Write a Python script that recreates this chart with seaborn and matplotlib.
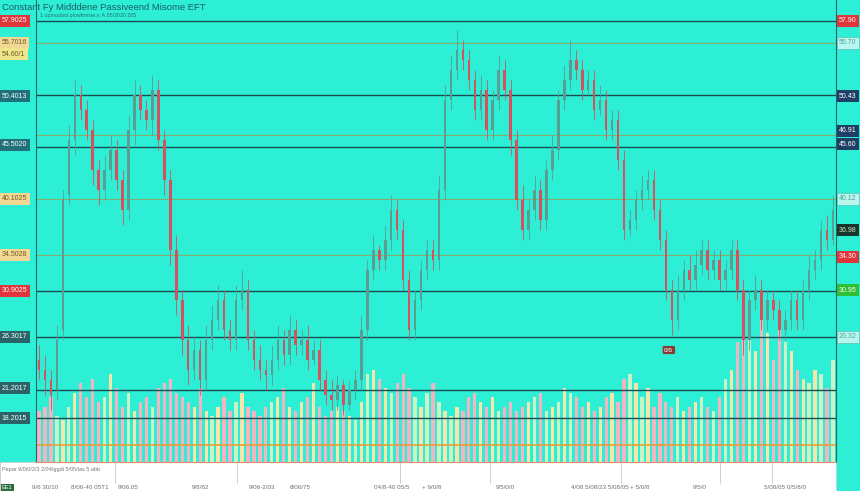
import numpy as np
import pandas as pd
import matplotlib
matplotlib.use("Agg")
import matplotlib.pyplot as plt
import matplotlib.transforms as mtransforms
import seaborn as sns

# ---- candle data ----
opens = [24.0, 23.0, 22.0, 21.0, 27.0, 40.5, 46.0, 50.5, 49.0, 47.0,
         43.0, 41.0, 43.0, 45.0, 42.0, 39.0, 47.0, 50.5, 49.0, 48.0,
         51.0, 46.0, 42.0, 35.0, 30.0, 26.0, 23.0, 25.0, 22.0, 26.0,
         28.0, 30.0, 27.0, 26.0, 30.0, 31.0, 26.0, 24.0, 23.0, 22.5,
         24.0, 26.0, 24.5, 27.0, 25.5, 26.0, 24.0, 25.0, 22.0, 20.5,
         20.0, 21.5, 19.5, 21.0, 22.0, 27.0, 33.0, 35.0, 34.0, 36.0,
         39.0, 37.0, 32.0, 27.0, 30.0, 33.0, 35.0, 34.0, 41.0, 50.0,
         53.0, 55.0, 54.0, 52.0, 49.0, 51.0, 47.0, 50.0, 53.0, 51.0,
         46.0, 40.0, 37.0, 39.0, 41.0, 38.0, 43.0, 45.0, 50.0, 52.0,
         54.0, 53.0, 51.0, 52.0, 49.0, 50.0, 47.0, 48.0, 44.0, 37.0,
         38.0, 40.0, 41.0, 42.0, 39.0, 36.0, 31.0, 28.0, 31.0, 33.0,
         32.0, 33.5, 35.0, 33.0, 34.0, 32.0, 33.0, 35.0, 31.0, 26.0,
         30.0, 31.0, 28.0, 30.0, 29.0, 27.0, 28.0, 30.0, 28.0, 31.0,
         33.0, 34.0, 37.0, 36.0]
closes = [23.0, 22.0, 20.5, 26.0, 40.0, 46.0, 50.5, 49.0, 47.0, 43.0,
          41.0, 43.0, 45.0, 42.0, 39.0, 47.0, 50.5, 49.0, 48.0, 51.0,
          46.0, 42.0, 35.0, 30.0, 26.0, 23.0, 25.0, 22.0, 26.0, 28.0,
          30.0, 27.0, 26.0, 30.0, 31.0, 26.0, 24.0, 23.0, 22.5, 24.0,
          26.0, 24.5, 27.0, 25.5, 26.0, 24.0, 25.0, 22.0, 20.5, 20.0,
          21.5, 19.5, 21.0, 22.0, 27.0, 33.0, 35.0, 34.0, 36.0, 39.0,
          37.0, 32.0, 27.0, 30.0, 33.0, 35.0, 34.0, 41.0, 50.0, 53.0,
          55.0, 54.0, 52.0, 49.0, 51.0, 47.0, 50.0, 53.0, 51.0, 46.0,
          40.0, 37.0, 39.0, 41.0, 38.0, 43.0, 45.0, 50.0, 52.0, 54.0,
          53.0, 51.0, 52.0, 49.0, 50.0, 47.0, 48.0, 44.0, 37.0, 38.0,
          40.0, 41.0, 42.0, 39.0, 36.0, 31.0, 28.0, 31.0, 33.0, 32.0,
          33.5, 35.0, 33.0, 34.0, 32.0, 33.0, 35.0, 31.0, 26.0, 30.0,
          31.0, 28.0, 30.0, 29.0, 27.0, 28.0, 30.0, 28.0, 31.0, 33.0,
          34.0, 37.0, 36.0, 39.0]
highs = [25.5, 24.5, 23.0, 27.5, 41.0, 47.5, 52.0, 51.5, 50.0, 48.0,
         44.0, 44.5, 46.5, 46.0, 43.0, 48.5, 52.0, 51.5, 50.0, 52.5,
         52.0, 47.0, 43.0, 36.5, 31.0, 27.5, 26.5, 26.0, 27.5, 29.5,
         31.5, 31.0, 28.0, 31.5, 33.0, 32.0, 27.0, 25.5, 24.0, 25.5,
         27.5, 27.0, 28.5, 28.0, 27.0, 27.5, 26.0, 26.0, 23.0, 22.0,
         22.5, 22.0, 22.0, 23.0, 28.5, 34.0, 36.5, 35.5, 37.5, 40.5,
         40.0, 38.0, 33.0, 31.0, 34.0, 36.0, 36.0, 42.5, 51.5, 54.5,
         57.0, 56.0, 55.0, 53.0, 52.5, 52.0, 51.0, 54.5, 54.0, 52.0,
         47.0, 41.5, 40.0, 42.5, 42.0, 44.0, 46.5, 51.0, 53.5, 56.0,
         55.0, 54.0, 53.0, 53.0, 51.5, 51.0, 49.0, 49.0, 45.0, 39.0,
         41.0, 42.5, 43.0, 43.0, 40.0, 37.0, 32.0, 32.5, 34.0, 34.5,
         35.0, 36.0, 36.0, 35.0, 35.0, 34.0, 36.0, 36.0, 32.0, 31.0,
         32.5, 32.0, 31.0, 31.0, 30.0, 29.0, 31.0, 31.0, 32.0, 34.5,
         35.0, 38.0, 38.5, 40.5]
lows = [22.0, 20.5, 19.0, 20.0, 26.0, 39.5, 44.5, 48.0, 46.0, 41.5,
        39.5, 40.0, 42.0, 41.0, 37.5, 38.0, 45.5, 48.0, 47.0, 46.5,
        45.0, 40.5, 33.5, 28.5, 24.5, 21.5, 22.0, 20.5, 21.0, 25.0,
        27.0, 26.0, 25.0, 25.0, 29.0, 25.0, 23.0, 22.0, 21.0, 21.5,
        23.0, 23.5, 23.5, 24.5, 24.5, 23.0, 23.5, 21.0, 19.5, 19.0,
        19.0, 18.5, 19.0, 20.0, 21.0, 26.0, 32.0, 33.0, 33.0, 35.0,
        36.0, 31.0, 26.0, 26.0, 29.0, 32.0, 33.0, 33.0, 40.0, 49.0,
        52.0, 53.0, 51.0, 48.0, 48.0, 46.0, 46.0, 49.0, 50.0, 44.5,
        39.0, 36.0, 36.0, 38.0, 37.0, 37.0, 42.0, 44.0, 49.0, 51.0,
        52.0, 50.0, 50.5, 48.0, 48.5, 46.0, 46.0, 43.0, 36.0, 36.5,
        37.0, 39.0, 40.0, 38.0, 35.0, 30.0, 26.5, 27.0, 30.0, 31.0,
        31.0, 32.5, 32.0, 32.0, 31.0, 31.0, 32.0, 30.0, 24.5, 25.0,
        29.0, 27.0, 27.0, 28.0, 26.0, 26.0, 27.0, 27.0, 27.0, 30.0,
        32.0, 33.0, 35.0, 35.5]
volume = [55, 60, 70, 50, 45, 60, 75, 85, 70, 90,
          65, 70, 95, 80, 60, 75, 55, 65, 70, 60,
          80, 85, 90, 75, 70, 65, 60, 80, 55, 50,
          60, 70, 55, 65, 75, 60, 55, 50, 60, 65,
          70, 80, 60, 55, 65, 70, 85, 60, 50, 55,
          60, 55, 50, 45, 65, 95, 100, 90, 80, 75,
          85, 95, 80, 70, 60, 75, 85, 65, 55, 50,
          60, 55, 70, 75, 65, 60, 70, 55, 60, 65,
          55, 60, 65, 70, 75, 55, 60, 65, 80, 75,
          70, 60, 65, 55, 60, 70, 75, 65, 90, 95,
          85, 70, 80, 60, 75, 65, 60, 70, 55, 60,
          65, 70, 60, 55, 70, 90, 100, 130, 170, 150,
          120, 160, 140, 110, 150, 130, 120, 100, 90, 85,
          100, 95, 80, 110]
vol_avg = 18

# support / resistance levels
level_prices = [57.9, 55.7, 50.5, 46.5, 45.3, 40.1, 34.5, 30.9, 26.3, 21.0, 18.2]
level_kinds = ["major", "minor", "major", "minor", "major", "minor",
               "minor", "major", "major", "major", "major"]

left_tag_prices = [57.9, 55.7, 54.6, 50.4, 45.5, 40.1, 34.5, 30.9, 26.3, 21.2, 18.2]
left_tag_texts = ["57.9025", "55.7016", "54.60/1", "50.4013", "45.5020", "40.1025",
                  "34.5028", "30.9025", "26.3017", "21.2017", "18.2015"]
left_tag_kinds = ["red", "sand", "yellow", "teal", "teal", "sand",
                  "sand", "red", "dark", "dark", "dark"]

right_tag_prices = [57.9, 55.7, 50.4, 46.9, 45.6, 40.1, 37.0, 34.3, 31.0, 26.3]
right_tag_texts = ["57.90", "55.70", "50.43", "46.91", "45.60", "40.12",
                   "36.98", "34.30", "30.95", "26.32"]
right_tag_kinds = ["red", "pale", "navy", "navy", "navy", "pale",
                   "black", "red", "green", "pale"]

date_ticks = [1.0, 8.5, 14.9, 27.0, 37.4, 43.7, 59.1, 65.8, 78.1, 94.0, 100.7, 110.7, 125.0]
date_labels = ["9/6 30/10", "8/06-40 05T1", "9/06.05", "9/8/62", "9/06-2/03", "8/06/75",
               "04/8-40 05/5", "+ 9/0/8", "9/5/0/0", "4/08 5/08/23 5/08/05", "+ 5/0/8",
               "9/5/0", "5/08/05 0/5/8/0"]
grid_ticks = [12.7, 27.0, 33.2, 60.5, 75.5, 97.5, 114.1, 122.8]

title = "Constant Fy Midddene Passiveend Misome EFT"
subtitle = "1 opmodast plowfrmsie.v, A.05/2020 205"
footnote = "Pepar 9/0/0/2/3 2/04/ggdi 5/05/tas 5 abb"

# ---- styling ----
BG = "#2cefd6"
UP, DOWN = "#5c9d93", "#d84f5e"
tag_faces = {"red": ("#e0353a", "white"), "sand": ("#f3d894", "#6b5a2a"),
             "yellow": ("#efe68c", "#6b5a2a"), "teal": ("#20717a", "white"),
             "dark": ("#2b6468", "white"), "pale": ("#b9f6ee", "#4fa59c"),
             "navy": ("#1f3f66", "white"), "black": ("#17352a", "#d8e8c0"),
             "green": ("#2fbf34", "white")}

sns.set_theme(style="white", rc={"axes.facecolor": BG, "figure.facecolor": BG})
plt.rcParams["font.family"] = ["Liberation Sans", "DejaVu Sans"]

df = pd.DataFrame({"open": opens, "close": closes, "high": highs, "low": lows, "volume": volume})
df["idx"] = np.arange(len(df))
df["up"] = df["close"] >= df["open"]
df["tone"] = np.where(~df["up"], "down", np.where(df["idx"] % 2 == 0, "up_a", "up_b"))

fig = plt.figure(figsize=(8.6, 4.91), dpi=100)
ax = fig.add_axes([36 / 860, 29 / 491, 800 / 860, 462 / 491])
axv = ax.twinx()

# white strip below the chart
fig.patches.append(plt.Rectangle((0, 0), 836 / 860, 29 / 491, transform=fig.transFigure,
                                 facecolor="white", edgecolor="#d0d0d0", lw=0.6, zorder=0))

# volume bars (behind candles)
sns.barplot(data=df, x="idx", y="volume", hue="tone", native_scale=True, dodge=False,
            palette={"down": "#f4b4c2", "up_a": "#f6e6ac", "up_b": "#cbf4c4"},
            saturation=1, width=0.55, linewidth=0, legend=False, ax=axv)
axv.axhline(vol_avg, color="#ec9a2e", lw=1.1, zorder=5)
axv.set_ylim(0, 500)
axv.set_yticks([])
axv.set_ylabel("")
axv.set_xlabel("")
ax.set_zorder(axv.get_zorder() + 1)
ax.patch.set_visible(False)
axv.set_facecolor(BG)

# candles
cols = np.where(df["up"], UP, DOWN)
ax.vlines(df["idx"], df["low"], df["high"], colors=cols, lw=0.6, zorder=3)
body_lo = df[["open", "close"]].min(axis=1)
body_h = (df["close"] - df["open"]).abs().clip(lower=0.2)
ax.bar(df["idx"], body_h, bottom=body_lo, width=0.42, color=cols, lw=0, zorder=4)

# levels
for p, k in zip(level_prices, level_kinds):
    if k == "major":
        ax.axhline(p, color="#1b4c52", lw=1.0, zorder=2)
    else:
        ax.axhline(p, color="#8aa96a", lw=0.8, zorder=2)

ax.set_xlim(-0.5, len(df) - 0.5)
axv.set_xlim(-0.5, len(df) - 0.5)
ax.set_ylim(13.8, 60)
ax.set_yticks([])

# x ticks: labels in the bottom strip, grey separator lines
ax.set_xticks(date_ticks)
ax.set_xticklabels(date_labels, fontsize=4.5, color="#707070")
ax.tick_params(axis="x", which="major", length=0, pad=16.5)
ax.set_xticks(grid_ticks, minor=True)
ax.tick_params(axis="x", which="minor", length=15, width=0.6, color="#c8c8c8", bottom=True)
for s in ["left", "right"]:
    ax.spines[s].set_color("#1e6a6a")
    ax.spines[s].set_linewidth(0.8)
ax.spines["top"].set_visible(False)
ax.spines["bottom"].set_color("#e58a6a")
ax.spines["bottom"].set_linewidth(0.8)
for s in axv.spines.values():
    s.set_visible(False)

# price tags
left_tr = mtransforms.blended_transform_factory(fig.transFigure, ax.transData)
for p, t, k in zip(left_tag_prices, left_tag_texts, left_tag_kinds):
    fc, tc = tag_faces[k]
    ax.text(0.002, p, t, transform=left_tr, ha="left", va="center", fontsize=5, color=tc,
            bbox=dict(boxstyle="square,pad=0.35", fc=fc, ec="none"), clip_on=False, zorder=6)
right_tr = mtransforms.blended_transform_factory(fig.transFigure, ax.transData)
for p, t, k in zip(right_tag_prices, right_tag_texts, right_tag_kinds):
    fc, tc = tag_faces[k]
    ec = "#5fbfb8" if k == "pale" else "none"
    ax.text(839 / 860, p, t, transform=right_tr, ha="left", va="center", fontsize=5, color=tc,
            bbox=dict(boxstyle="square,pad=0.3", fc=fc, ec=ec, lw=0.5), clip_on=False, zorder=6)

# marker label near the dip
ax.text(105.5, 25.0, "0/Б", ha="center", va="center", fontsize=4.5, color="white",
        bbox=dict(boxstyle="round,pad=0.25", fc="#8a3a34", ec="none"), zorder=6)

# titles and footnotes
fig.text(2 / 860, 1 - 8 / 491, title, fontsize=6.8, color="#1d5d63", va="center", ha="left")
fig.text(40 / 860, 1 - 16 / 491, subtitle, fontsize=3.8, color="#2b6f72", va="center", ha="left")
fig.text(2 / 860, 21 / 491, footnote, fontsize=4, color="#777777", va="center", ha="left")
fig.text(2 / 860, 3.5 / 491, "EE1", fontsize=4, color="white", va="center", ha="left",
         bbox=dict(boxstyle="square,pad=0.2", fc="#2f6b3f", ec="none"))

fig.savefig("out.png", dpi=100, facecolor=BG)
